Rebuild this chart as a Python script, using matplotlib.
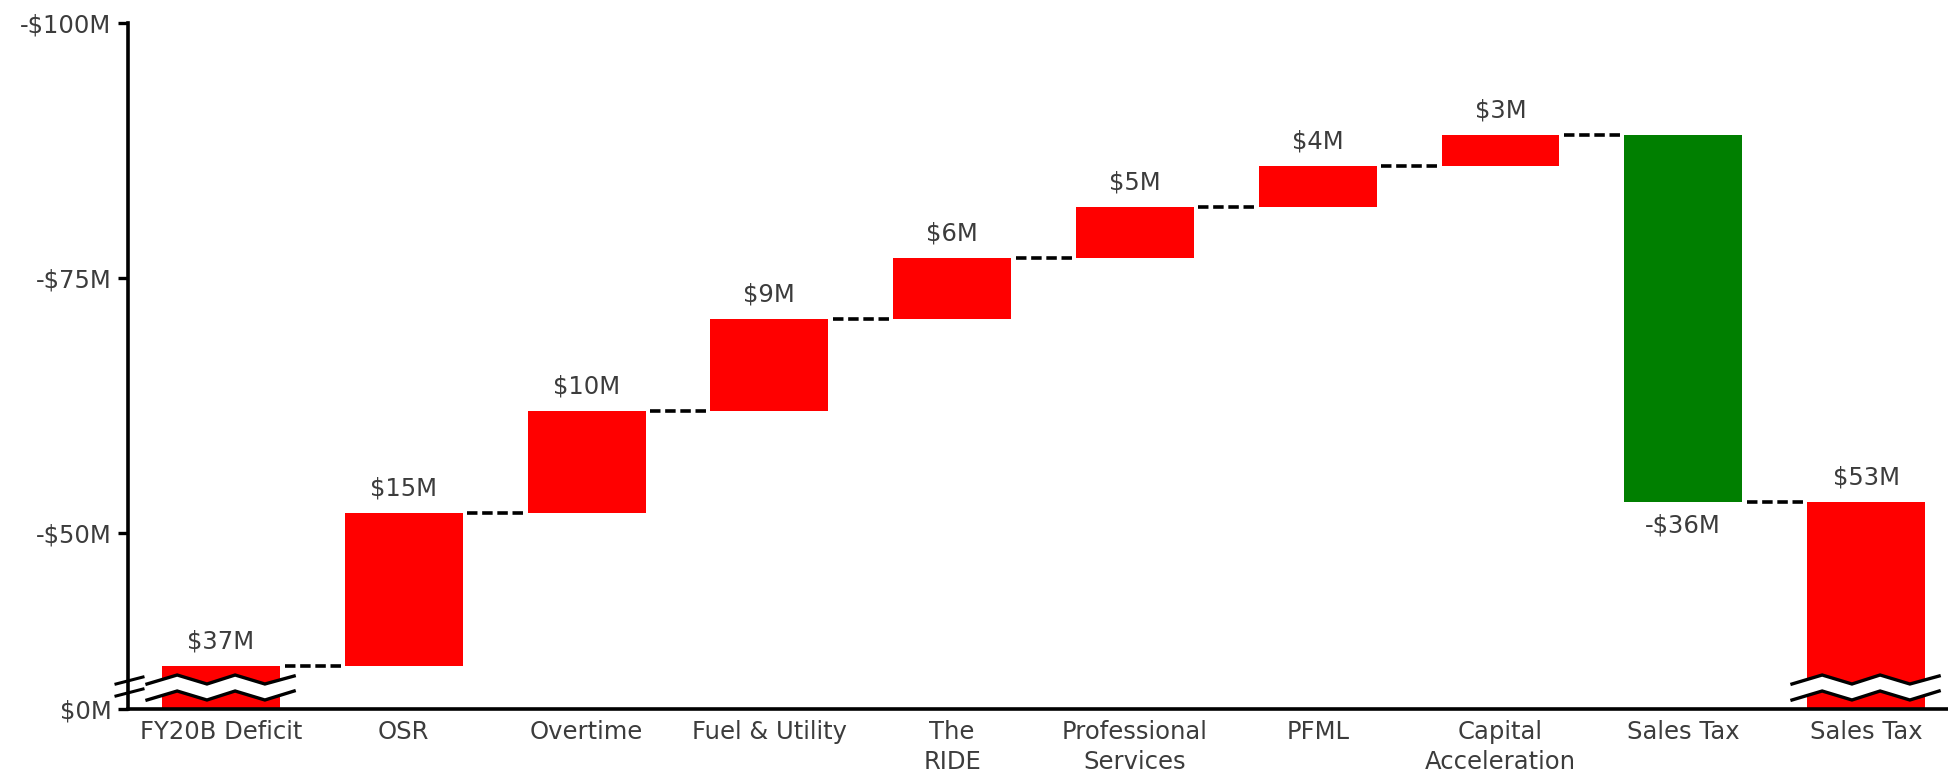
import matplotlib
matplotlib.use("Agg")
import matplotlib.pyplot as plt
import numpy as np

# ---- data ----
categories = ["FY20B Deficit", "OSR", "Overtime", "Fuel & Utility", "The\nRIDE",
              "Professional\nServices", "PFML", "Capital\nAcceleration", "Sales Tax", "Sales Tax"]
start_value = 37          # opening deficit ($M)
changes = [15, 10, 9, 6, 5, 4, 3, -36]   # incremental items ($M)
y_ticks = [100, 75, 50]
y_tick_labels = ["-$100M", "-$75M", "-$50M"]
zero_label = "$0M"

RED = "#FF0000"
GREEN = "#007F00"
TXT = "#3c3c3c"
FS = 17.5

W, H = 1949, 776
fig = plt.figure(figsize=(W / 100, H / 100), dpi=100)
ax = fig.add_axes([128 / W, 67 / H, 1 - 128 / W, (709 - 23) / H])

ybot, ytop = 32.75, 100
ax.set_ylim(ybot, ytop)
ax.set_xlim(-0.509, 9.454)
bw = 0.645

# ---- bars ----
n = len(categories)
total = start_value + sum(changes)
bottoms, heights, colors = [0], [start_value], [RED]
cum = start_value
levels = [start_value]
for c in changes:
    bottoms.append(cum)
    heights.append(c)
    colors.append(RED if c > 0 else GREEN)
    cum += c
    levels.append(cum)
bottoms.append(0)
heights.append(total)
colors.append(RED)

x = np.arange(n)
ax.bar(x, heights, bottom=bottoms, width=bw, color=colors, edgecolor="none", zorder=2)

# ---- value labels ----
label_vals = [start_value] + changes + [total]
for i, (b, h, v) in enumerate(zip(bottoms, heights, label_vals)):
    if v >= 0:
        ax.annotate(f"${abs(v)}M", (i, b + h), xytext=(0, 9), textcoords="offset points",
                    ha="center", va="bottom", fontsize=FS, color=TXT)
    else:
        ax.annotate(f"-${abs(v)}M", (i, b + h), xytext=(0, -8), textcoords="offset points",
                    ha="center", va="top", fontsize=FS, color=TXT)

# ---- connectors ----
for i in range(n - 1):
    ax.plot([i + bw / 2 + 0.025, i + 1 - bw / 2 - 0.02], [levels[i], levels[i]],
            color="black", lw=2.6, linestyle=(0, (2.9, 1.3)), zorder=3,
            solid_capstyle="butt", dash_capstyle="butt")

# ---- break markers on first and last bar ----
ppm = (709 - 23) / (ytop - ybot)  # pixels per $M
zx = np.array([-0.405, -0.24, -0.077, 0.077, 0.24, 0.40])
up_px = np.array([25, 34, 25, 34, 25, 33])
lo_px = np.array([9, 18, 9, 18, 9, 18])
for i in (0, n - 1):
    xs = i + zx
    yu = ybot + up_px / ppm
    yl = ybot + lo_px / ppm
    ax.fill_between(xs, yl, yu, color="white", zorder=4, clip_on=False, lw=0)
    ax.plot(xs, yu, color="black", lw=2.4, zorder=5, clip_on=False, solid_joinstyle="miter")
    ax.plot(xs, yl, color="black", lw=2.4, zorder=5, clip_on=False, solid_joinstyle="miter")

# y-axis break slashes
for dy in (0, 1):
    y0 = ybot + (25 - dy * 12) / ppm
    y1 = ybot + (32 - dy * 12) / ppm
    xl = -0.509 - 12 / 182.8
    xr = -0.509 + 15 / 182.8
    ax.plot([xl, xr], [y0, y1], color="black", lw=2.2, zorder=6, clip_on=False)

# ---- axes styling ----
for s in ("top", "right"):
    ax.spines[s].set_visible(False)
for s in ("left", "bottom"):
    ax.spines[s].set_linewidth(2.6)
    ax.spines[s].set_color("black")

ax.set_yticks([ybot] + y_ticks)
ax.set_yticklabels([zero_label] + y_tick_labels)
ax.tick_params(axis="y", length=7, width=2.4, pad=5, labelsize=FS, labelcolor=TXT, color="black")
ax.set_xticks(x)
ax.set_xticklabels(categories, linespacing=1.3)
ax.tick_params(axis="x", length=0, pad=8, labelsize=FS, labelcolor=TXT)

fig.savefig("out.png", dpi=100, facecolor="white")
